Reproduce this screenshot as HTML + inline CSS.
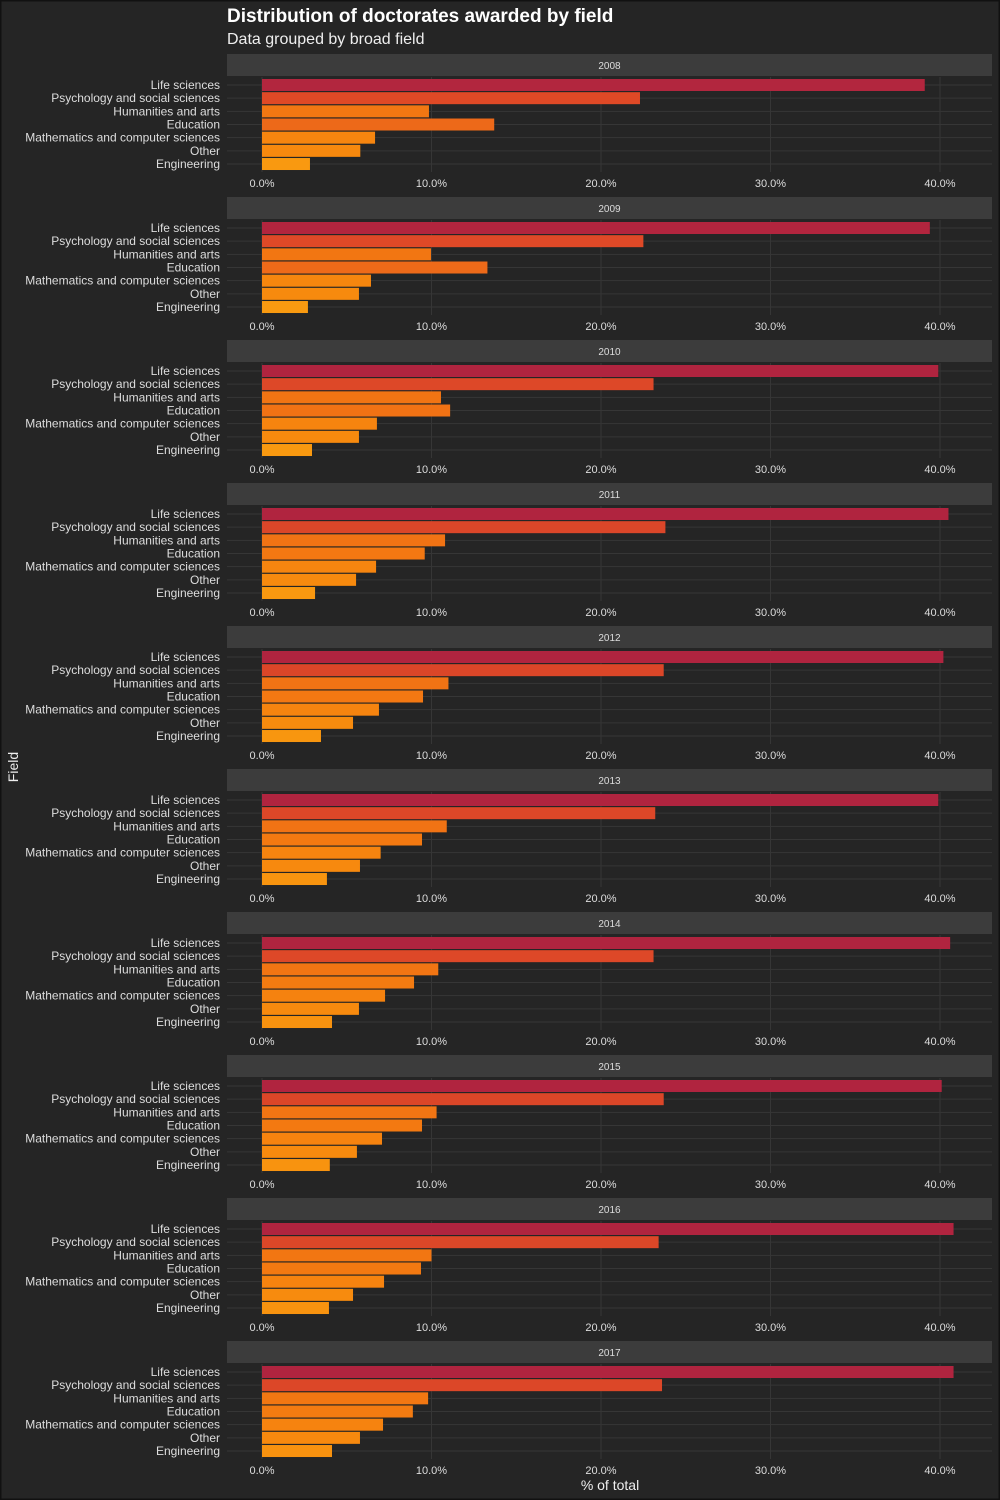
<!DOCTYPE html>
<html><head><meta charset="utf-8"><style>
html,body{margin:0;padding:0;background:#252525;}
body{width:1000px;height:1500px;overflow:hidden;font-family:"Liberation Sans",sans-serif;}
svg{display:block}
</style></head><body>
<svg id="chart" width="1000" height="1500" xmlns="http://www.w3.org/2000/svg">
<rect x="0.5" y="0.5" width="999" height="1499" fill="#252525" stroke="#111" stroke-width="2"/>
<text x="227" y="22" fill="#fff" font-size="19" font-weight="bold">Distribution of doctorates awarded by field</text>
<text x="227" y="44" fill="#eee" font-size="16">Data grouped by broad field</text>
<text x="610" y="1490" fill="#eee" font-size="14" text-anchor="middle">% of total</text>
<text x="18" y="767" fill="#eee" font-size="14" text-anchor="middle" transform="rotate(-90 18 767)">Field</text>
<g id="panels"></g>
</svg>
<script>
const years = ["2008","2009","2010","2011","2012","2013","2014","2015","2016","2017"];
const fields = ["Life sciences","Psychology and social sciences","Humanities and arts","Education","Mathematics and computer sciences","Other","Engineering"];
const lifeSci = [39.1,39.4,39.9,40.5,40.2,39.9,40.6,40.1,40.8,40.8];
const psychSoc = [22.3,22.5,23.1,23.8,23.7,23.2,23.1,23.7,23.4,23.6];
const humArts = [9.85,9.97,10.56,10.8,11.0,10.9,10.4,10.3,10.0,9.8];
const education = [13.7,13.3,11.1,9.6,9.5,9.44,8.97,9.44,9.38,8.9];
const mathComp = [6.67,6.43,6.78,6.73,6.9,7.0,7.26,7.08,7.2,7.14];
const other = [5.8,5.72,5.72,5.55,5.37,5.78,5.72,5.6,5.37,5.78];
const engineering = [2.83,2.71,2.95,3.13,3.48,3.83,4.13,4.0,3.95,4.13];
const tickValues = [0,10,20,30,40];
const tickLabels = ["0.0%","10.0%","20.0%","30.0%","40.0%"];
const series = [lifeSci,psychSoc,humArts,education,mathComp,other,engineering];

const NS="http://www.w3.org/2000/svg";
const g=document.getElementById("panels");
const x0=262, pxPer=16.95, plotL=227, plotR=992;
const xScale=v=>x0+v*pxPer;
function colorFor(v){
  const stops=[[2.5,[249,155,16]],[6,[247,136,14]],[10,[242,118,18]],[14,[237,104,26]],[22,[224,74,38]],[40,[176,36,63]],[42,[176,36,63]]];
  for(let i=0;i<stops.length-1;i++){const a=stops[i],b=stops[i+1];
    if(v<=b[0]){const t=Math.max(0,(v-a[0])/(b[0]-a[0]));
      return "rgb("+a[1].map((c,k)=>Math.round(c+(b[1][k]-c)*t)).join(",")+")";}}
  return "rgb(176,36,63)";
}
function mk(tag,attrs){const e=document.createElementNS(NS,tag);for(const k in attrs)e.setAttribute(k,attrs[k]);return e;}
years.forEach((yr,p)=>{
  const top=54+p*143;
  const pg=mk("g",{});
  
  
  g.appendChild(pg);
  const strip=mk("rect",{x:plotL,y:top,width:plotR-plotL,height:22,fill:"#3c3c3c"});
  
  
  pg.appendChild(strip);
  const st=mk("text",{x:(plotL+plotR)/2,y:top+15,fill:"#ddd","font-size":10,"text-anchor":"middle"});
  st.textContent=yr;
  
  
  pg.appendChild(st);
  const rowY=i=>top+31+i*13.17;
  tickValues.forEach((t,i)=>{
    const l=mk("line",{x1:xScale(t),x2:xScale(t),y1:top+23,y2:top+118,stroke:"#363636","stroke-width":1});
    
    
    pg.appendChild(l);
    const tl=mk("text",{x:xScale(t),y:top+133,fill:"#ddd","font-size":11,"text-anchor":"middle"});
    tl.textContent=tickLabels[i];
    
    
    pg.appendChild(tl);
  });
  fields.forEach((f,i)=>{
    const l=mk("line",{x1:plotL,x2:plotR,y1:rowY(i),y2:rowY(i),stroke:"#363636","stroke-width":1});
    
    
    pg.appendChild(l);
  });
  fields.forEach((f,i)=>{
    const v=series[i][p];
    const r=mk("rect",{x:x0,y:rowY(i)-6,width:xScale(v)-x0,height:12,fill:colorFor(v)});
    
    
    pg.appendChild(r);
    const lb=mk("text",{x:220,y:rowY(i)+4,fill:"#ddd","font-size":12,"text-anchor":"end"});
    lb.textContent=f;
    
    
    pg.appendChild(lb);
  });
});
</script>
</body></html>
